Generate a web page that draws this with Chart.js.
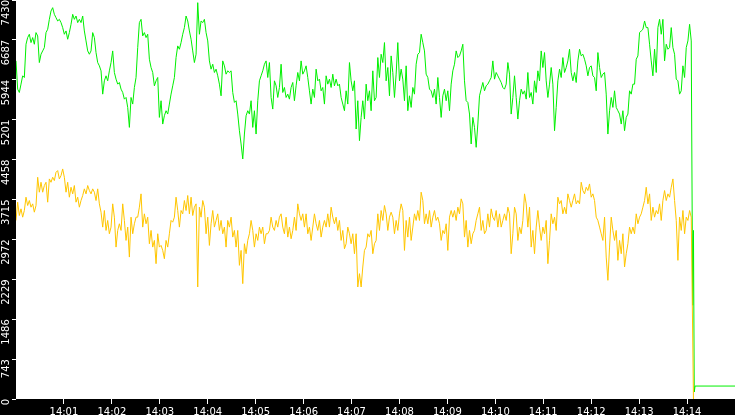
<!DOCTYPE html>
<html>
<head>
<meta charset="utf-8">
<script src="https://cdn.jsdelivr.net/npm/chart.js@4.4.1/dist/chart.umd.min.js"></script>
<style>
  html, body { margin: 0; padding: 0; background: #000; }
  canvas { display: block; }
</style>
</head>
<body>
<canvas id="chart" width="735" height="415"></canvas>
<script>
// ──────── 数据 ────────
// 时间轴：秒，从 14:00:00 起；主序列每 STEP_SEC 秒一个点
const STEP_SEC = 2.087;
const X_MAX_SEC = 900;
const tickLabels = ['14:01', '14:02', '14:03', '14:04', '14:05', '14:06', '14:07',
                    '14:08', '14:09', '14:10', '14:11', '14:12', '14:13', '14:14'];
const yTickStep = 743;
const yMax = 7430;

const greenValues = [
  6296,5770,5708,5863,6018,5987,6606,6730,6792,6637,6730,6606,6823,6761,6265,6420,6482,6544,6823,6885,
  7070,7225,7287,7163,7101,7039,7070,7009,6916,6792,6854,6699,6823,6977,7163,7070,7132,7009,7070,7009,
  7132,6854,6668,6482,6420,6482,6823,6730,6451,6265,6204,6111,5677,5925,6018,5925,6111,6265,6482,6080,
  5956,5863,5894,5770,5708,5584,5615,5430,5058,5615,5492,5801,5987,6544,7009,7070,6761,6823,6730,6792,
  6327,6173,6080,5832,5925,5987,5244,5554,5120,5275,5368,5306,5492,5677,5832,5987,6358,6575,6513,6637,
  6792,6916,7132,7039,6854,6699,6482,6265,
  6420,7380,6792,7039,7009,7070,6823,6668,6296,6142,6234,6080,6142,6018,5863,5646,6296,6204,6049,6111,
  6080,6111,5708,5523,5554,5306,4996,4749,4470,4934,5275,5368,5306,5554,5058,5368,4934,5554,5925,6018,
  6111,6234,6296,5987,6265,5615,5399,5925,5832,5615,5801,6234,5708,5801,5615,5677,5584,5801,5894,5554,
  5832,6080,5925,6296,6049,6111,6204,5987,5739,5492,5770,5615,6142,5925,5956,5739,5801,5492,6018,5863,
  5956,5801,6049,5832,5956,5832,5863,5615,5492,5368,5739,5492,6265,5925,5739,5925,5027,5554,4811,5244,
  5554,5213,5863,5554,5739,5368,6111,5554,
  5615,6358,5987,6420,6265,6637,5925,6173,5646,6389,6080,5615,6049,6637,5925,6142,5956,5554,6204,5368,
  5646,5430,5801,5677,6234,6420,6451,6792,6637,6482,6049,5987,5770,5739,5615,5770,5492,5987,5615,5244,
  5646,5770,5554,5739,5368,5863,6111,6234,6482,6358,6389,6482,6606,5925,5554,5523,5306,4749,5244,5058,
  4687,5120,5646,5770,5894,5739,5832,5863,5925,5987,6296,5956,6080,6018,5956,5894,5801,5770,5863,6265,
  6049,5306,5615,6018,5615,5213,5554,5770,5677,5739,5584,6080,5615,5708,5492,5925,5708,6111,5925,6482,
  6173,6451,5925,5615,5863,6173,5863,4996,
  5430,5925,6142,5987,6358,6080,6173,6296,6513,6080,5925,6080,5894,6296,6513,6389,6420,6327,6204,6018,
  6173,6204,6018,5987,5739,6451,6173,5987,6049,6080,5677,4934,5368,5615,5430,5739,5430,5368,5306,5120,
  5368,4996,5244,5306,5739,5677,5863,5863,6327,6389,6823,6854,6885,7039,6916,6916,6606,6296,6018,6513,
  6080,6916,7070,6792,7070,6296,6606,6513,6544,6916,6544,6420,5956,5925,5677,5739,6204,5987,6544,6668,
  6977,6668
];

const yellowValues = [
  3325,3665,3417,3541,3386,3510,3758,3603,3696,3572,3634,3479,3603,4129,3851,4036,3851,3975,4036,3665,
  4098,4036,4129,4067,4222,4253,4098,4160,4284,4129,3851,4036,3758,3943,3820,3975,3665,3758,3572,3696,
  3789,3913,3820,3975,3882,3820,3913,3851,3696,3913,3634,3479,3201,3510,3139,3325,3077,3201,3634,3386,
  2829,3139,3263,3139,3634,3325,2953,3201,2643,3386,3077,3263,3386,3386,3572,3820,3201,3448,3263,3386,
  2891,3139,2829,2953,2520,3077,2829,2860,2767,2612,2953,2829,3077,3325,3293,3386,3758,3510,3201,3510,
  3448,3696,3510,3789,3448,3758,3417,3572,
  3634,2086,3572,3386,3696,3572,3077,3386,2860,3263,3510,3201,3325,3448,3139,3325,3077,3201,2829,3325,
  3201,3386,3015,3139,2829,3139,2489,2767,2148,2891,2705,2953,3077,3325,3139,2829,3077,2953,3201,3077,
  3201,2891,3077,3077,3139,3386,3201,3139,3325,3201,3386,3448,3201,3077,3386,3015,3201,2984,3139,3386,
  3139,3634,3448,3325,3448,3201,3448,3077,3201,2953,3201,3448,3263,3139,3325,3015,3201,3325,3201,3448,
  3201,3572,3386,3263,3386,3139,3325,2953,3139,2798,2891,3201,3077,2891,3077,2705,3077,2086,2334,2086,
  2458,2767,2829,3077,3015,3139,2705,2891,
  2953,3448,3139,3510,3325,3603,3448,3139,3386,3479,3386,3077,3325,3139,3448,3634,3510,2767,3325,3015,
  3386,2953,3201,3448,3325,3510,3325,3851,3696,3263,3448,3263,3510,3201,3386,3510,3325,3386,3263,2953,
  3139,3077,3263,2767,3386,3510,3386,3510,3325,3572,3448,3727,3634,3015,3325,2829,3139,2891,3077,3139,
  3325,3448,3572,3139,3325,3077,3139,3448,3201,3541,3386,3325,3510,3201,3448,3201,3325,3448,3325,3572,
  3448,2705,3077,3572,3448,2953,3201,3077,3325,3820,3634,3201,3572,2829,3139,2705,3201,3510,3201,2953,
  3201,3077,3325,2520,2953,3448,3263,3386,
  3139,3758,3634,3696,3448,3572,3448,3820,3696,3572,3696,3820,3634,3696,3634,4036,3882,3820,3943,3882,
  4005,3758,3820,3696,3386,3325,3201,3077,2953,3386,2643,2210,2829,3386,3139,2953,3139,2582,2953,2705,
  3077,2458,2705,2891,3201,3077,3201,3077,3448,3263,3386,3448,3572,3696,3943,3634,3820,3325,3572,3386,
  3510,3448,3634,3325,3696,3882,3696,3820,3758,3943,4098,3696,3325,2582,3386,3139,3510,3077,3386,3325,
  3510,3386
];

// 14:14 之后的收尾（秒 / 数值）
const greenTailSec = [847, 848, 849, 850, 900];
const greenTail = [1746, 3139, 130, 241, 241];
const yellowTailSec = [848];
const yellowTail = [0];

// ──────── 绘图 ────────
function toPoints(values, tailSec, tailValues) {
  const pts = values.map((v, i) => ({ x: i * STEP_SEC, y: v }));
  tailSec.forEach((t, i) => pts.push({ x: t, y: tailValues[i] }));
  return pts;
}

const FONT = { family: 'DejaVu Sans', size: 10 };

// 绘图区白底，坐标轴区域保持黑色
const plotBg = {
  id: 'plotBg',
  beforeDraw(chart) {
    const { ctx, chartArea: a } = chart;
    ctx.save();
    ctx.fillStyle = '#ffffff';
    ctx.fillRect(a.left, a.top, a.right - a.left, a.bottom - a.top);
    ctx.restore();
  }
};

new Chart(document.getElementById('chart'), {
  type: 'line',
  data: {
    datasets: [
      { data: toPoints(yellowValues, yellowTailSec, yellowTail), borderColor: '#ffc600', borderWidth: 1, pointRadius: 0, tension: 0 },
      { data: toPoints(greenValues, greenTailSec, greenTail), borderColor: '#00f000', borderWidth: 1, pointRadius: 0, tension: 0 },
    ]
  },
  options: {
    responsive: false,
    animation: false,
    devicePixelRatio: 1,
    layout: { padding: 0 },
    events: [],
    plugins: { legend: { display: false }, tooltip: { enabled: false } },
    scales: {
      x: {
        type: 'linear', min: 0, max: X_MAX_SEC,
        border: { display: false },
        grid: { drawOnChartArea: false, tickLength: 5, color: '#ffffff' },
        ticks: {
          color: '#ffffff', font: FONT, padding: 2, maxRotation: 0, autoSkip: false,
          callback: (v, i) => tickLabels[i]
        },
        afterBuildTicks(s) { s.ticks = tickLabels.map((_, i) => ({ value: (i + 1) * 60 })); },
        afterFit(s) { s.height = 16; s.paddingLeft = 0; s.paddingRight = 0; }
      },
      y: {
        min: 0, max: yMax,
        border: { display: false },
        grid: { drawOnChartArea: false, tickLength: 4, color: '#ffffff' },
        ticks: {
          stepSize: yTickStep, color: '#ffffff', font: FONT, padding: 6,
          minRotation: 90, maxRotation: 90,
          callback: v => String(v)
        },
        afterFit(s) { s.width = 16; s.paddingTop = 0; s.paddingBottom = 0; }
      }
    }
  },
  plugins: [plotBg]
});
</script>
</body>
</html>
